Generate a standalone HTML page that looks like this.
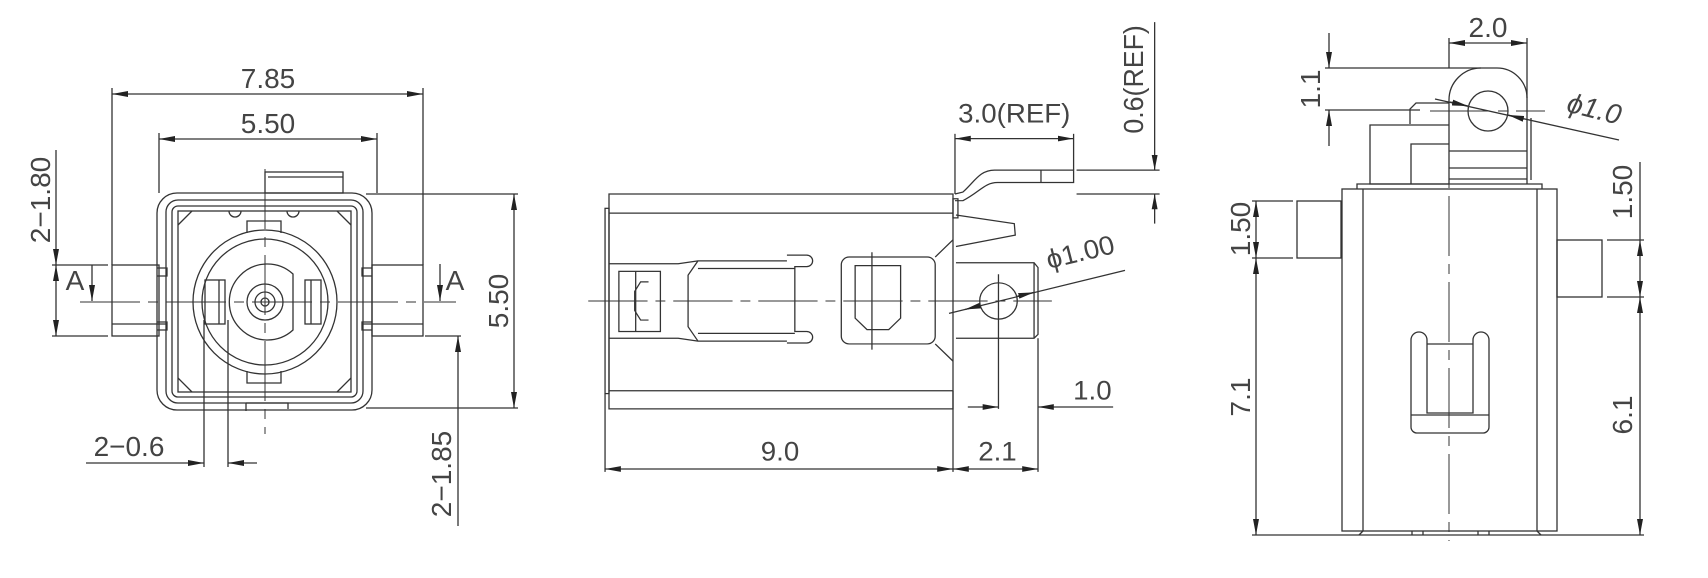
<!DOCTYPE html>
<html><head><meta charset="utf-8"><style>
html,body{margin:0;padding:0;background:#fff}
svg{display:block}
text{font-family:"Liberation Sans",sans-serif;font-size:28px;fill:#444}
</style></head><body>
<svg width="1708" height="578" viewBox="0 0 1708 578" xmlns="http://www.w3.org/2000/svg">
<defs>
<marker id="a" viewBox="0 0 16 6" refX="16" refY="3" markerWidth="16" markerHeight="6" markerUnits="userSpaceOnUse" orient="auto-start-reverse"><path d="M0,0 L16,3 L0,6z" fill="#222"/></marker>
</defs>
<g fill="none" stroke="#333" stroke-width="1.3">
<!-- ===== VIEW 1 ===== -->
<rect x="157" y="193" width="215" height="217" rx="20"/>
<rect x="166" y="200" width="197" height="203" rx="12"/>
<rect x="172" y="206" width="185" height="191" rx="6"/>
<rect x="178" y="211" width="173" height="181"/>
<path d="M178,225 L192,211 M351,225 L337,211 M178,378 L192,392 M351,378 L337,392"/>
<path d="M229,211 a6,6 0 0 0 12,0 M287,211 a6,6 0 0 0 12,0"/>
<rect x="265" y="172" width="78" height="21"/>
<line x1="268" y1="177" x2="343" y2="177"/>
<rect x="112" y="265" width="47" height="71"/>
<line x1="112" y1="324" x2="166" y2="324"/>
<rect x="372" y="265" width="51" height="71"/>
<line x1="363" y1="324" x2="423" y2="324"/>
<path d="M157,268 h10 v8 h-10 M157,330 h10 v-8 h-10 M372,268 h-10 v8 h10 M372,330 h-10 v-8 h10"/>
<circle cx="265" cy="302" r="72"/>
<circle cx="265" cy="302" r="63"/>
<path d="M247,233 v-12 h34 v12 M247,371 v12 h34 v-12"/>
<path d="M293,274 A38,38 0 1 0 293,330 Z"/>
<circle cx="265" cy="302" r="18"/>
<circle cx="265" cy="302" r="10"/>
<circle cx="265" cy="302" r="4"/>
<rect x="205" y="280" width="20" height="44"/>
<line x1="219" y1="280" x2="219" y2="324"/>
<rect x="305" y="280" width="16" height="44"/>
<line x1="311" y1="280" x2="311" y2="324"/>
<path d="M246,403 h42 v6 M246,403 v8"/>
<g stroke-dasharray="60,8,10,8" stroke-width="1"><line x1="80" y1="302" x2="456" y2="302"/><line x1="265" y1="169" x2="265" y2="434"/></g>
<line x1="112" y1="265" x2="112" y2="88"/><line x1="423" y1="265" x2="423" y2="88"/>
<line x1="112" y1="94" x2="423" y2="94" marker-start="url(#a)" marker-end="url(#a)"/>
<line x1="159" y1="193" x2="159" y2="133"/><line x1="377" y1="193" x2="377" y2="133"/>
<line x1="159" y1="139" x2="377" y2="139" marker-start="url(#a)" marker-end="url(#a)"/>
<line x1="366" y1="194" x2="518" y2="194"/><line x1="366" y1="408" x2="518" y2="408"/>
<line x1="514" y1="194" x2="514" y2="408" marker-start="url(#a)" marker-end="url(#a)"/>
<line x1="52" y1="265" x2="108" y2="265"/><line x1="52" y1="336" x2="108" y2="336"/>
<line x1="56" y1="150" x2="56" y2="265" marker-end="url(#a)"/>
<line x1="56" y1="265" x2="56" y2="336" marker-start="url(#a)" marker-end="url(#a)"/>
<line x1="92" y1="265" x2="92" y2="301" marker-end="url(#a)"/>
<line x1="440" y1="264" x2="440" y2="301" marker-end="url(#a)"/>
<line x1="425" y1="336" x2="461" y2="336"/>
<line x1="458" y1="526" x2="458" y2="336" marker-end="url(#a)"/>
<line x1="204" y1="320" x2="204" y2="467"/><line x1="228" y1="320" x2="228" y2="467"/>
<line x1="86" y1="463" x2="204" y2="463" marker-end="url(#a)"/>
<line x1="257" y1="463" x2="228" y2="463" marker-end="url(#a)"/>

<!-- ===== VIEW 2 ===== -->
<g transform="translate(609,194) scale(0.9885,0.955) translate(-610,-205)">
<rect x="610" y="205" width="348" height="225"/>
<line x1="610" y1="225" x2="958" y2="225"/><line x1="610" y1="411" x2="958" y2="411"/>
<rect x="606" y="220" width="4" height="194"/>
<path d="M610,278 H680 L700,275 H790 M610,356 H680 L700,359 H790"/>
<rect x="620" y="286" width="42" height="63"/>
<line x1="637" y1="286" x2="637" y2="349"/>
<path d="M650,297 h-8 l-6,10 v20 l6,10 h8"/>
<path d="M700,275 l-10,15 v54 l10,15 M790,269 h20 a6,6 0 0 1 0,12 h-12 v68 h12 a6,6 0 0 1 0,12 h-20 M700,283 H798 M700,351 H798"/>
<rect x="845" y="271" width="95" height="91" rx="8"/>
<path d="M859,280 h46 v55 l-12,12 h-22 l-12,-12z"/>
<line x1="876" y1="266" x2="876" y2="368"/>
<path d="M940,271 L958,253 M940,362 L958,380"/>
<path d="M961,277 H1040 L1044,282 V352 L1040,356 H961"/>
<line x1="1040" y1="277" x2="1040" y2="356"/>
<circle cx="1004" cy="317" r="19"/>
<path d="M960,205 L968,203 C980,192 985,180 1000,180 H1080 V193 H1003 C990,193 985,203 968,212 L960,212"/>
<line x1="1047" y1="180" x2="1047" y2="193"/>
<rect x="958" y="210" width="5" height="20"/>
<path d="M961,227 L1020,236 L1021,248 L961,260"/>
<g stroke-dasharray="60,8,10,8" stroke-width="1"><line x1="589" y1="317" x2="1058" y2="317"/></g>
<line x1="606" y1="414" x2="606" y2="496"/><line x1="958" y1="411" x2="958" y2="496"/><line x1="1044" y1="356" x2="1044" y2="496"/>
<line x1="606" y1="493" x2="958" y2="493" marker-start="url(#a)" marker-end="url(#a)"/>
<line x1="958" y1="493" x2="1044" y2="493" marker-start="url(#a)" marker-end="url(#a)"/>
<line x1="1004" y1="289" x2="1004" y2="430"/>
<line x1="973" y1="428" x2="1004" y2="428" marker-end="url(#a)"/>
<line x1="1120" y1="428" x2="1044" y2="428" marker-end="url(#a)"/>
<line x1="954" y1="330" x2="1132" y2="285"/>
<line x1="970" y1="326" x2="985" y2="322" marker-start="url(#a)"/>
<line x1="1040" y1="308" x2="1023" y2="312" marker-start="url(#a)"/>
<line x1="960" y1="205" x2="960" y2="142"/><line x1="1080" y1="180" x2="1080" y2="142"/>
<line x1="960" y1="147" x2="1080" y2="147" marker-start="url(#a)" marker-end="url(#a)"/>
<line x1="1083" y1="180" x2="1167" y2="180"/><line x1="1083" y1="205" x2="1167" y2="205"/>
<line x1="1162" y1="25" x2="1162" y2="180" marker-end="url(#a)"/>
<line x1="1162" y1="236" x2="1162" y2="205" marker-end="url(#a)"/>
</g>

<!-- ===== VIEW 3 ===== -->
<rect x="1342" y="189" width="215" height="342"/>
<line x1="1363" y1="189" x2="1363" y2="531"/><line x1="1537" y1="189" x2="1537" y2="531"/>
<path d="M1357,189 v-5 h185 v5"/>
<path d="M1363,531 l-4,4 M1537,531 l4,4 M1412,531 v4 M1423,531 v4 M1478,531 v4 M1489,531 v4"/>
<path d="M1449,184 V100 A32,32 0 0 1 1481,68 H1497 A30,30 0 0 1 1527,98 V184"/>
<path d="M1531,118 V180"/>
<line x1="1449" y1="151" x2="1527" y2="151"/><line x1="1449" y1="168" x2="1527" y2="168"/><line x1="1449" y1="179" x2="1527" y2="179"/>
<circle cx="1488" cy="111" r="20"/>
<path d="M1449,184 H1370 V125 H1449"/>
<path d="M1411,184 V144 H1449"/>
<path d="M1449,103 H1416 L1410,109 V124"/>
<rect x="1297" y="201" width="44" height="57"/>
<rect x="1557" y="240" width="45" height="57"/>
<path d="M1411,427 V340 a8,8 0 0 1 16,0 V413 h46 V340 a8,8 0 0 1 16,0 V427 a6,6 0 0 1 -6,6 H1417 a6,6 0 0 1 -6,-6z"/>
<path d="M1427,344 H1473 M1411,415 H1489"/>
<g stroke-dasharray="60,8,10,8" stroke-width="1"><line x1="1449" y1="110" x2="1449" y2="541"/><line x1="1430" y1="111" x2="1545" y2="111"/></g>
<line x1="1449" y1="68" x2="1449" y2="38"/><line x1="1527" y1="98" x2="1527" y2="38"/>
<line x1="1449" y1="43" x2="1527" y2="43" marker-start="url(#a)" marker-end="url(#a)"/>
<line x1="1325" y1="68" x2="1481" y2="68"/><line x1="1325" y1="110" x2="1420" y2="110"/>
<line x1="1329" y1="33" x2="1329" y2="68" marker-end="url(#a)"/>
<line x1="1329" y1="146" x2="1329" y2="110" marker-end="url(#a)"/>
<line x1="1435" y1="99" x2="1619" y2="140"/>
<line x1="1450" y1="102" x2="1468" y2="106" marker-end="url(#a)"/>
<line x1="1524" y1="119" x2="1508" y2="115" marker-end="url(#a)"/>
<line x1="1252" y1="201" x2="1293" y2="201"/><line x1="1252" y1="258" x2="1293" y2="258"/>
<line x1="1256" y1="201" x2="1256" y2="258" marker-start="url(#a)" marker-end="url(#a)"/>
<line x1="1256" y1="258" x2="1256" y2="535" marker-start="url(#a)" marker-end="url(#a)"/>
<line x1="1252" y1="535" x2="1644" y2="535"/>
<line x1="1607" y1="240" x2="1644" y2="240"/><line x1="1607" y1="297" x2="1644" y2="297"/>
<line x1="1640" y1="162" x2="1640" y2="240"/>
<line x1="1640" y1="240" x2="1640" y2="297" marker-start="url(#a)" marker-end="url(#a)"/>
<line x1="1640" y1="297" x2="1640" y2="535" marker-start="url(#a)" marker-end="url(#a)"/>
</g>
<!-- text -->
<g text-anchor="middle">
<text x="268" y="88">7.85</text>
<text x="268" y="133">5.50</text>
<text x="129" y="456">2−0.6</text>
<text transform="translate(508,301) rotate(-90)">5.50</text>
<text transform="translate(50,200) rotate(-90)">2−1.80</text>
<text transform="translate(451,474) rotate(-90)">2−1.85</text>
<text x="75" y="290">A</text>
<text x="455" y="290">A</text>
<g transform="translate(609,194) scale(0.9885,0.955) translate(-610,-205)">
<text x="783" y="484">9.0</text>
<text x="1003" y="484">2.1</text>
<text x="1099" y="420">1.0</text>
<text x="1020" y="130">3.0(REF)</text>
<text transform="translate(1150,85) rotate(-90)">0.6(REF)</text>
<text transform="translate(1089,275) rotate(-14)">ϕ1.00</text>
</g>
<text x="1488" y="37">2.0</text>
<text transform="translate(1320,89) rotate(-90)">1.1</text>
<text transform="translate(1592,118) rotate(14)" font-style="italic">ϕ1.0</text>
<text transform="translate(1250,229) rotate(-90)">1.50</text>
<text transform="translate(1250,397) rotate(-90)">7.1</text>
<text transform="translate(1632,192) rotate(-90)">1.50</text>
<text transform="translate(1632,415) rotate(-90)">6.1</text>
</g>
</svg>
</body></html>
